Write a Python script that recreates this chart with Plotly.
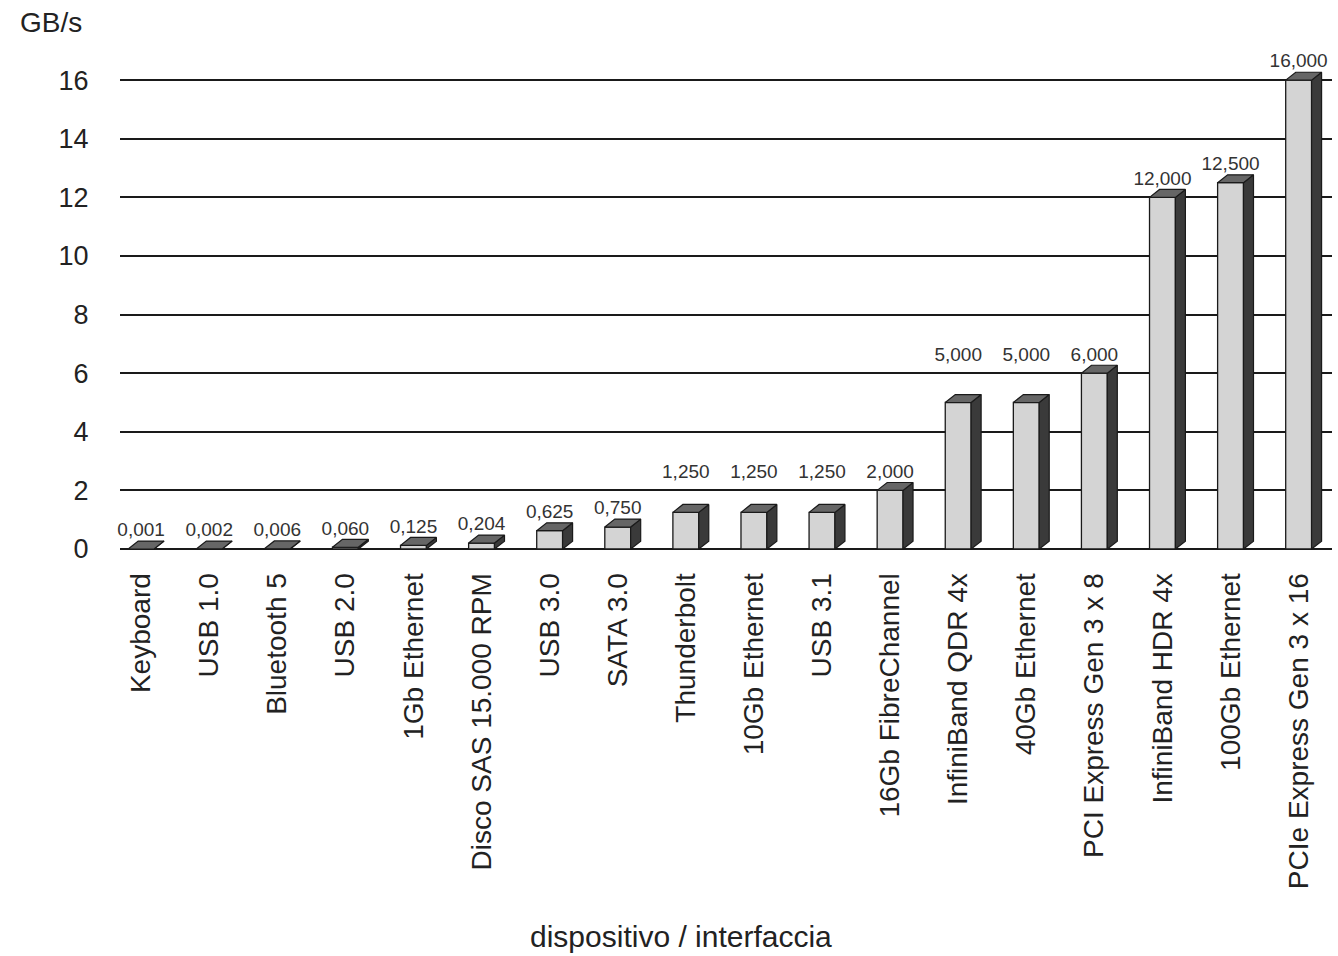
import plotly.graph_objects as go

categories = ["Keyboard", "USB 1.0", "Bluetooth 5", "USB 2.0", "1Gb Ethernet",
              "Disco SAS 15.000 RPM", "USB 3.0", "SATA 3.0", "Thunderbolt",
              "10Gb Ethernet", "USB 3.1", "16Gb FibreChannel", "InfiniBand QDR 4x",
              "40Gb Ethernet", "PCI Express Gen 3 x 8", "InfiniBand HDR 4x",
              "100Gb Ethernet", "PCIe Express Gen 3 x 16"]
values = [0.001, 0.002, 0.006, 0.060, 0.125, 0.204, 0.625, 0.750, 1.250,
          1.250, 1.250, 2.000, 5.000, 5.000, 6.000, 12.000, 12.500, 16.000]
y_ticks = [0, 2, 4, 6, 8, 10, 12, 14, 16]

FONT = "Liberation Sans, Arial, sans-serif"
W = 0.38      # front face width (category units)
DX = 0.147    # depth offset x (category units)
DY = 0.27     # depth offset y (data units)

xs = list(range(len(categories)))
labels = [f"{v:.3f}".replace(".", ",") for v in values]

# label anchor: runs of equal values are aligned with the following bar's label
label_base = list(values)
n = len(values)
i = 0
while i < n:
    j = i
    while j + 1 < n and values[j + 1] == values[i]:
        j += 1
    if j > i and j + 1 < n:
        for k in range(i, j + 1):
            label_base[k] = values[j + 1]
    i = j + 1

fig = go.Figure()

# front faces
fig.add_trace(go.Bar(
    x=xs, y=values, width=W,
    marker=dict(color="#d4d4d4", line=dict(color="#1a1a1a", width=1.3)),
    hoverinfo="skip", showlegend=False))

# side faces
sx, sy = [], []
for i, v in zip(xs, values):
    r = i + W / 2
    sx += [r, r + DX, r + DX, r, r, None]
    sy += [0, DY, v + DY, v, 0, None]
fig.add_trace(go.Scatter(
    x=sx, y=sy, mode="lines", fill="toself", fillcolor="#3a3a3a",
    line=dict(color="#1a1a1a", width=1.2), hoverinfo="skip", showlegend=False))

# top faces
tx, ty = [], []
for i, v in zip(xs, values):
    l, r = i - W / 2, i + W / 2
    tx += [l, r, r + DX, l + DX, l, None]
    ty += [v, v, v + DY, v + DY, v, None]
fig.add_trace(go.Scatter(
    x=tx, y=ty, mode="lines", fill="toself", fillcolor="#666666",
    line=dict(color="#1a1a1a", width=1.2), hoverinfo="skip", showlegend=False))

# value labels
fig.add_trace(go.Scatter(
    x=xs, y=[b + DY for b in label_base], mode="text", text=labels,
    textposition="top center",
    textfont=dict(family=FONT, size=19, color="#333333"),
    cliponaxis=False, hoverinfo="skip", showlegend=False))

fig.update_layout(
    width=1338, height=956,
    margin=dict(l=120, r=6, t=40, b=396),
    paper_bgcolor="white", plot_bgcolor="white",
    font=dict(family=FONT, color="#222222"),
    xaxis=dict(range=[-0.31, 17.49], tickmode="array", tickvals=xs,
               ticktext=categories, tickangle=-90, showgrid=False,
               zeroline=False, showline=False, ticks="outside", ticklen=1,
               tickcolor="rgba(0,0,0,0)",
               tickfont=dict(family=FONT, size=28, color="#222222")),
    yaxis=dict(range=[-0.375, 17.37], tickmode="array", tickvals=y_ticks,
               showgrid=True, gridcolor="#1a1a1a", gridwidth=1.5,
               zeroline=True, zerolinecolor="#1a1a1a", zerolinewidth=1.5,
               showline=False, ticks="outside", ticklen=25,
               tickcolor="rgba(0,0,0,0)",
               tickfont=dict(family=FONT, size=27, color="#222222")),
    annotations=[
        dict(text="GB/s", xref="paper", yref="paper",
             x=(18 - 120) / 1212, y=(560 - 23) / 520,
             xanchor="left", yanchor="middle", showarrow=False,
             font=dict(family=FONT, size=28, color="#222222")),
        dict(text="dispositivo / interfaccia", xref="paper", yref="paper",
             x=(681 - 120) / 1212, y=-(936 - 560) / 520,
             xanchor="center", yanchor="middle", showarrow=False,
             font=dict(family=FONT, size=30, color="#222222")),
    ],
)

fig.write_html("out.html")
